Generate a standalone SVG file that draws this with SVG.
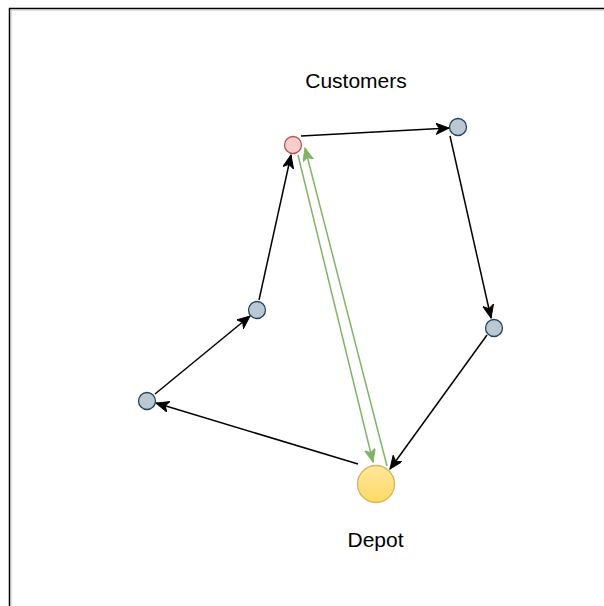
<svg xmlns="http://www.w3.org/2000/svg" width="604" height="606" viewBox="0 0 604 606">
  <defs>
    <style>
      .edge { fill: none; stroke: #000; stroke-width: 1.5; }
      .edge-green { fill: none; stroke: #82b366; stroke-width: 1.5; }
      .cust { fill: #bac8d3; stroke: #23445d; stroke-width: 1.3; }
      .cust-red { fill: #f8cecc; stroke: #b85450; stroke-width: 1.3; }
      .depot { fill: url(#depotFill); stroke: #d6b656; stroke-width: 1.3; }
      .label { font-family: "Liberation Sans", Arial, sans-serif; font-size: 21px; fill: #000; text-anchor: middle; }
    </style>
    <linearGradient id="depotFill" x1="0" y1="0" x2="0" y2="1">
      <stop offset="0" stop-color="#ffe79c"/>
      <stop offset="1" stop-color="#ffd966"/>
    </linearGradient>
    <marker id="arrowBlack" markerUnits="userSpaceOnUse" markerWidth="16" markerHeight="14" refX="13" refY="5.5" orient="auto">
      <path d="M0,0 L13,5.5 L0,11 L3.5,5.5 Z" fill="#000" stroke="#000" stroke-width="1"/>
    </marker>
    <marker id="arrowGreen" markerUnits="userSpaceOnUse" markerWidth="16" markerHeight="14" refX="13" refY="5.5" orient="auto">
      <path d="M0,0 L13,5.5 L0,11 L3.5,5.5 Z" fill="#82b366" stroke="#82b366" stroke-width="1"/>
    </marker>
  </defs>

  <rect x="0" y="0" width="604" height="606" fill="#fff"/>

  <!-- frame edges -->
  <g id="frame">
    <line x1="9" y1="8.5" x2="604" y2="8.5" stroke="#000" stroke-width="1.5"/>
    <line x1="9.5" y1="8" x2="9.5" y2="606" stroke="#000" stroke-width="1.5"/>
    <line x1="11" y1="10" x2="604" y2="10" stroke="#bbb" stroke-width="1"/>
    <line x1="11" y1="10" x2="11" y2="606" stroke="#bbb" stroke-width="1"/>
  </g>

  <!-- connectors -->
  <g id="connectors">
    <line class="edge" x1="301" y1="136" x2="449" y2="128" marker-end="url(#arrowBlack)"/>
    <line class="edge" x1="450" y1="136" x2="491" y2="318" marker-end="url(#arrowBlack)"/>
    <line class="edge" x1="487" y1="335" x2="390" y2="469" marker-end="url(#arrowBlack)"/>
    <line class="edge" x1="358" y1="464" x2="156" y2="403" marker-end="url(#arrowBlack)"/>
    <line class="edge" x1="155" y1="394" x2="250" y2="316" marker-end="url(#arrowBlack)"/>
    <line class="edge" x1="259" y1="300" x2="291" y2="155" marker-end="url(#arrowBlack)"/>
    <line class="edge-green" x1="298" y1="155" x2="373" y2="462" marker-end="url(#arrowGreen)"/>
    <line class="edge-green" x1="387" y1="466" x2="305" y2="148" marker-end="url(#arrowGreen)"/>
  </g>

  <!-- customer nodes -->
  <g id="customer-start">
    <circle class="cust-red" cx="293" cy="145" r="8.5"/>
  </g>
  <g id="customer-ne">
    <circle class="cust" cx="458" cy="127" r="8.5"/>
  </g>
  <g id="customer-e">
    <circle class="cust" cx="494" cy="328" r="8.5"/>
  </g>
  <g id="customer-mid">
    <circle class="cust" cx="257" cy="310" r="8.5"/>
  </g>
  <g id="customer-w">
    <circle class="cust" cx="147" cy="401" r="8.5"/>
  </g>

  <!-- depot -->
  <g id="depot">
    <circle class="depot" cx="376" cy="484" r="18.5"/>
  </g>

  <!-- labels -->
  <g id="label-customers">
    <text class="label" x="356" y="88">Customers</text>
  </g>
  <g id="label-depot">
    <text class="label" x="375.5" y="547">Depot</text>
  </g>
</svg>
